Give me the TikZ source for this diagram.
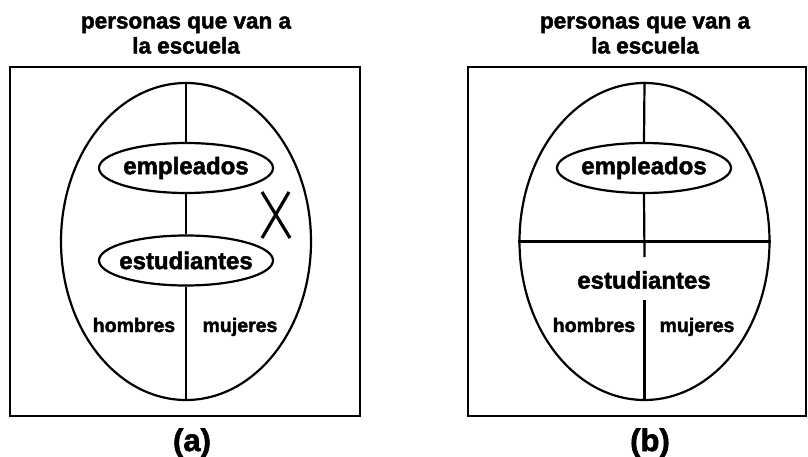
\documentclass[tikz,border=0pt]{standalone}
\usepackage{fontspec}
\setmainfont{Liberation Sans}[BoldFeatures={FakeBold=2}]
\usetikzlibrary{shapes.geometric}
\begin{document}
\begin{tikzpicture}[x=1pt,y=-1pt,
  frame/.style={draw,line width=2.4pt},
  big/.style={draw,ellipse,line width=2.2pt,minimum width=250pt,minimum height=317pt,inner sep=0pt},
  small/.style={draw,ellipse,line width=2.2pt,minimum width=174pt,minimum height=50pt,inner xsep=-14pt,inner ysep=0pt,font=\fontsize{24}{26}\selectfont\bfseries},
  divider/.style={line width=2.2pt},
  title/.style={align=center,font=\fontsize{22.5}{25}\selectfont\bfseries,inner sep=0pt},
  sub/.style={font=\fontsize{19.5}{22}\selectfont\bfseries,inner sep=0pt,anchor=base},
  tag/.style={font=\fontsize{31}{34}\selectfont\bfseries,inner sep=0pt},
  cross/.style={line width=3.2pt}]
\useasboundingbox (0,0) rectangle (808,457);
% ---------- panel (a)
\node[title] (titA) at (186,35) {personas que van a\\la escuela};
\draw[frame] (10,67) rectangle (360,416);
\node[big] (bigA) at (186,241.5) {};
\node[small] (empA) at (186,168) {empleados};
\node[small] (estA) at (186,260.5) {estudiantes};
\draw[divider] (bigA.north) -- (empA.north);
\draw[divider] (empA.south) -- (estA.north);
\draw[divider] (estA.south) -- (bigA.south);
\node[sub] (homA) at (134,332) {hombres};
\node[sub] (mujA) at (240,332) {mujeres};
\coordinate (xa1) at (262,192);
\coordinate (xa2) at (290,238);
\coordinate (xa3) at (289,192);
\coordinate (xa4) at (262,238);
\draw[cross] (xa1) -- (xa2);
\draw[cross] (xa3) -- (xa4);
\node[tag] (labA) at (192,443) {(a)};
% ---------- panel (b)
\node[title] (titB) at (645,35) {personas que van a\\la escuela};
\draw[frame] (468,67) rectangle (806,416);
\node[big] (bigB) at (644.5,241.5) {};
\node[small] (empB) at (644,168) {empleados};
\draw[divider] (bigB.north) -- (empB.north);
\coordinate (gapTop) at (bigB.center |- 0,257);
\coordinate (gapBot) at (bigB.center |- 0,300);
\draw[divider] (empB.south) -- (gapTop);
\draw[divider] (gapBot) -- (bigB.south);
\draw[divider] (bigB.west) -- (bigB.east);
\node[font=\fontsize{24}{26}\selectfont\bfseries,inner sep=0pt] (estB) at (644,280) {estudiantes};
\node[sub] (homB) at (594,332) {hombres};
\node[sub] (mujB) at (697,332) {mujeres};
\node[tag] (labB) at (650,443) {(b)};
\end{tikzpicture}
\end{document}
